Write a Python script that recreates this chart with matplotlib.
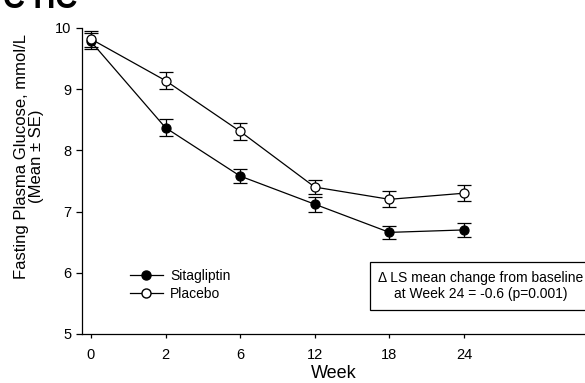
import numpy as np
import matplotlib.pyplot as plt
from matplotlib.lines import Line2D

plt.rcParams['font.family'] = ['Liberation Sans', 'DejaVu Sans']

# Data
weeks = ["0", "2", "6", "12", "18", "24"]
sita_mean = [9.78, 8.37, 7.58, 7.12, 6.66, 6.70]
sita_se = [0.13, 0.14, 0.12, 0.12, 0.11, 0.11]
plac_mean = [9.82, 9.14, 8.31, 7.40, 7.20, 7.30]
plac_se = [0.13, 0.14, 0.14, 0.12, 0.13, 0.13]

x = np.arange(len(weeks))

fig = plt.figure(figsize=(5.85, 3.83), dpi=100)
ax = fig.add_axes([0.140, 0.128, 0.860, 0.799])

common = dict(color="black", lw=0.9, capsize=5, capthick=0.9, elinewidth=0.9,
              markersize=6.5, markeredgewidth=0.9, markeredgecolor="black")
ax.errorbar(x, sita_mean, yerr=sita_se, fmt="-o", markerfacecolor="black", **common)
ax.errorbar(x, plac_mean, yerr=plac_se, fmt="-o", markerfacecolor="white", **common)

ax.set_xlim(-0.12, 6.62)
ax.set_ylim(5, 10)
ax.set_xticks(x)
ax.set_xticklabels(weeks)
ax.set_yticks([5, 6, 7, 8, 9, 10])
ax.tick_params(axis="y", direction="out", length=4, width=0.9,
               labelsize=10.5, pad=3.5)
ax.tick_params(axis="x", direction="out", length=3, width=0.9,
               labelsize=10.5, pad=7)
ax.spines["top"].set_visible(False)
ax.spines["right"].set_visible(False)
ax.spines["left"].set_linewidth(0.9)
ax.spines["bottom"].set_linewidth(0.9)

ax.set_xlabel("Week", fontsize=13, labelpad=2)
ax.set_ylabel("Fasting Plasma Glucose, mmol/L\n(Mean \u00b1 SE)", fontsize=12,
              linespacing=1.0)
ax.yaxis.set_label_coords(-0.076, 0.58)

handles = [
    Line2D([], [], color="black", lw=0.9, marker="o", markersize=6.5,
           markerfacecolor="black", markeredgecolor="black"),
    Line2D([], [], color="black", lw=0.9, marker="o", markersize=6.5,
           markerfacecolor="white", markeredgecolor="black"),
]
ax.legend(handles, ["Sitagliptin", "Placebo"], loc="upper left",
          bbox_to_anchor=(0.095, 0.213), frameon=False, fontsize=10,
          handlelength=2.4, handletextpad=0.5, labelspacing=0.3,
          borderaxespad=0, borderpad=0)

fig.text(481 / 585, 1 - 286 / 383,
         "\u0394 LS mean change from baseline\nat Week 24 = -0.6 (p=0.001)",
         ha="center", va="center", fontsize=10, linespacing=1.25,
         bbox=dict(boxstyle="square,pad=0.6", facecolor="white",
                   edgecolor="black", linewidth=0.9))

fig.text(0.005, 1.0, "C HC", fontsize=22, fontweight="bold",
         ha="left", va="center")

fig.savefig("out.png", dpi=100)
